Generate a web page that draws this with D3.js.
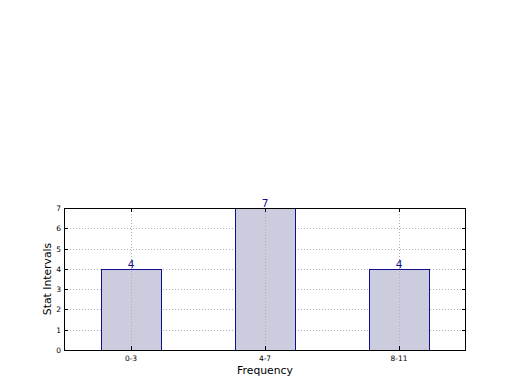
<!DOCTYPE html>
<html><head><meta charset="utf-8">
<script src="https://cdn.jsdelivr.net/npm/d3@7"></script>
<style>body{margin:0;background:#fff}svg{display:block}text{font-family:"DejaVu Sans",sans-serif}</style>
</head><body>
<script>
const categories = ["0-3","4-7","8-11"];
const values = [4,7,4];
const yTicks = [0,1,2,3,4,5,6,7];

const W=520,H=390;
const L=64,R=466,T=208,B=350;
const svg=d3.select("body").append("svg").attr("width",W).attr("height",H);
const x=d3.scaleLinear().domain([-0.5,2.5]).range([L,R]);
const y=d3.scaleLinear().domain([0,7]).range([B,T]);
const bw=0.45;

const g=svg.append("g");
// horizontal grid (below bars)
g.selectAll(".gy").data(yTicks).join("line")
 .attr("x1",L).attr("x2",R).attr("y1",d=>Math.round(y(d))+0.5).attr("y2",d=>Math.round(y(d))+0.5)
 .attr("stroke","#b0b0b0").attr("stroke-width",1).attr("stroke-dasharray","1,2");

// bars
g.selectAll(".bar").data(values).join("rect")
 .attr("x",(d,i)=>Math.round(x(i-bw/2))+0.5).attr("width",(d,i)=>Math.round(x(i+bw/2))-Math.round(x(i-bw/2)))
 .attr("y",d=>Math.round(y(d))+0.5).attr("height",d=>B-Math.round(y(d)))
 .attr("fill","#ccccdf").attr("stroke","#10108f").attr("stroke-width",1);

// vertical grid (over bars)
g.selectAll(".gx").data(categories).join("line")
 .attr("x1",(d,i)=>Math.round(x(i))+0.5).attr("x2",(d,i)=>Math.round(x(i))+0.5).attr("y1",T).attr("y2",B)
 .attr("stroke","#b0b0b0").attr("stroke-width",1).attr("stroke-dasharray","1,2");

// labels
g.selectAll(".lab").data(values).join("text")
 .attr("x",(d,i)=>x(i)).attr("y",d=>y(d)-1).attr("text-anchor","middle")
 .attr("font-size",10.5).attr("fill","#10108f").text(d=>d);

// frame
svg.append("rect").attr("x",L+0.5).attr("y",T+0.5).attr("width",R-L-1).attr("height",B-T)
 .attr("fill","none").attr("stroke","#000").attr("stroke-width",1);

// ticks inward
const tk=svg.append("g").attr("stroke","#000");
yTicks.forEach(t=>{
  const yy=Math.round(y(t))+0.5;
  tk.append("line").attr("x1",L).attr("x2",L+4).attr("y1",yy).attr("y2",yy);
  tk.append("line").attr("x1",R-4).attr("x2",R).attr("y1",yy).attr("y2",yy);
});
categories.forEach((c,i)=>{
  const xx=Math.round(x(i))+0.5;
  tk.append("line").attr("x1",xx).attr("x2",xx).attr("y1",B).attr("y2",B-4);
  tk.append("line").attr("x1",xx).attr("x2",xx).attr("y1",T).attr("y2",T+4);
});

// tick labels
svg.selectAll(".yt").data(yTicks).join("text")
 .attr("x",L-3).attr("y",d=>y(d)+3).attr("text-anchor","end").attr("font-size",7.5).text(d=>d);
svg.selectAll(".xt").data(categories).join("text")
 .attr("x",(d,i)=>x(i)).attr("y",B+11).attr("text-anchor","middle").attr("font-size",7.5).text(d=>d);

// axis labels
svg.append("text").attr("x",(L+R)/2).attr("y",374).attr("text-anchor","middle").attr("font-size",10.8).text("Frequency");
svg.append("text").attr("transform",`translate(51,${(T+B)/2}) rotate(-90)`).attr("text-anchor","middle").attr("font-size",10.8).text("Stat Intervals");
</script>
</body></html>
